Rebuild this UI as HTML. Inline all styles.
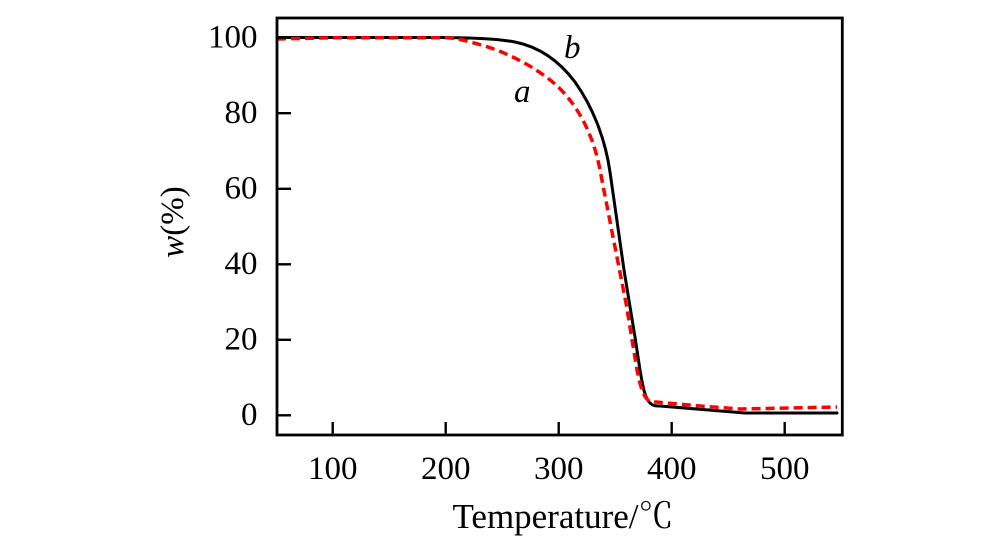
<!DOCTYPE html>
<html>
<head>
<meta charset="utf-8">
<style>
  html, body { margin: 0; padding: 0; background: #ffffff; }
  body { width: 1000px; height: 553px; overflow: hidden; }
  svg { display: block; }
  text { font-family: "Liberation Serif", "Noto Serif CJK SC", serif; fill: #000; }
</style>
</head>
<body>
<svg width="1000" height="553" viewBox="0 0 1000 553" xmlns="http://www.w3.org/2000/svg">
  <rect x="0" y="0" width="1000" height="553" fill="#ffffff"/>

  <!-- curve b (black solid) -->
  <path fill="none" stroke="#000" stroke-width="3" stroke-linejoin="round" stroke-linecap="round"
    d="M277,37.5 L440,37.5 C470,37.8 495,38.5 515,42 C540,47 560,62 575,82 C592,106 605,137 610,172 L624,270 L635,337 L640,370 C643,388 645,398 650,403 C653,406 656,406 660,406 L745,413 L837,413"/>

  <!-- curve a (red dashed) -->
  <path fill="none" stroke="#ff0000" stroke-width="3.5" stroke-dasharray="9,5" stroke-linejoin="round"
    d="M277,39 L330,37.8 L447,37.7 C460,38.5 470,42 485,46 C510,54 535,67 555,84 C575,102 592.4,130 600,170 L613,237 L626,303 L637,370 C640,385 643,396 648,400 C651,402 654,402 656,402 L700,406 L740,409 L790,408 L837,407"/>

  <!-- frame -->
  <rect x="277" y="18" width="565.3" height="417" fill="none" stroke="#000" stroke-width="2.8"/>

  <!-- x ticks -->
  <g stroke="#000" stroke-width="2.4">
    <line x1="332.7" y1="422" x2="332.7" y2="435"/>
    <line x1="445.7" y1="422" x2="445.7" y2="435"/>
    <line x1="558.7" y1="422" x2="558.7" y2="435"/>
    <line x1="671.7" y1="422" x2="671.7" y2="435"/>
    <line x1="784.7" y1="422" x2="784.7" y2="435"/>
  </g>
  <!-- y ticks -->
  <g stroke="#000" stroke-width="2.4">
    <line x1="277" y1="37.7" x2="291" y2="37.7"/>
    <line x1="277" y1="113.2" x2="291" y2="113.2"/>
    <line x1="277" y1="188.8" x2="291" y2="188.8"/>
    <line x1="277" y1="264.3" x2="291" y2="264.3"/>
    <line x1="277" y1="339.8" x2="291" y2="339.8"/>
    <line x1="277" y1="415.3" x2="291" y2="415.3"/>
  </g>

  <!-- y tick labels -->
  <g font-size="33" text-anchor="end">
    <text x="257.5" y="47.5">100</text>
    <text x="257.5" y="123">80</text>
    <text x="257.5" y="198.6">60</text>
    <text x="257.5" y="274.1">40</text>
    <text x="257.5" y="349.6">20</text>
    <text x="257.5" y="425.1">0</text>
  </g>

  <!-- x tick labels -->
  <g font-size="33" text-anchor="middle">
    <text x="332.7" y="479">100</text>
    <text x="445.7" y="479">200</text>
    <text x="558.7" y="479">300</text>
    <text x="671.7" y="479">400</text>
    <text x="784.7" y="479">500</text>
  </g>

  <!-- axis titles -->
  <text x="563" y="528" font-size="35" text-anchor="middle">Temperature/℃</text>
  <text transform="translate(183,222) rotate(-90)" font-size="33" text-anchor="middle"><tspan font-style="italic">w</tspan>(%)</text>

  <!-- curve labels -->
  <text x="564" y="58" font-size="33" font-style="italic">b</text>
  <text x="514" y="102" font-size="33" font-style="italic">a</text>
</svg>
</body>
</html>
